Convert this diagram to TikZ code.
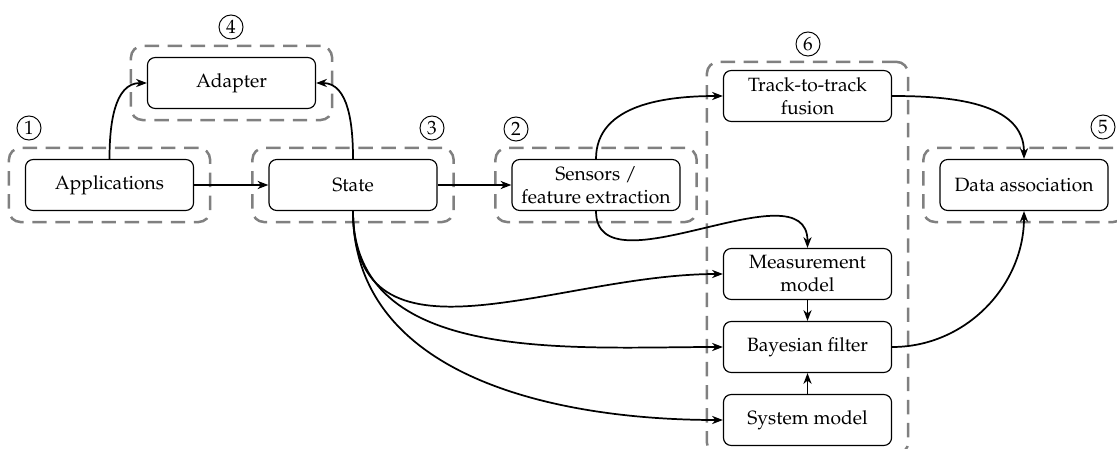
\documentclass[tikz,border=0pt]{standalone}
\usepackage[T1]{fontenc}
\usepackage{mathpazo}
\usetikzlibrary{arrows.meta,fit}
\begin{document}
\begin{tikzpicture}[x=0.52pt,y=-0.52pt,
  box/.style={draw, rounded corners=4pt, line width=0.6pt, minimum width=87.4pt, minimum height=26.5pt, align=center, inner sep=2pt},
  grp/.style={draw=gray, line width=1.3pt, dash pattern=on 7.5pt off 4.5pt, rounded corners=6pt, inner xsep=8.3pt, inner ysep=5.7pt},
  num/.style={draw, circle, line width=0.5pt, inner sep=0pt, minimum size=12.5pt},
  conn/.style={line width=0.9pt, -{Stealth[length=5.6pt,width=4.2pt,inset=1.7pt]}}]
\useasboundingbox (0,0) rectangle (1117,448);

% boxes
\node[box] (app) at (109.5,185) {Applications};
\node[box] (adapter) at (231.5,83) {Adapter};
\node[box] (state) at (353,185) {State};
\node[box] (sensors) at (596,185) {Sensors /\\feature extraction};
\node[box] (track) at (807.5,96) {Track-to-track\\fusion};
\node[box] (meas) at (807.5,274) {Measurement\\model};
\node[box] (bayes) at (807.5,347) {Bayesian filter};
\node[box] (sys) at (807.5,420) {System model};
\node[box] (da) at (1024,185) {Data association};

% groups
\node[grp, fit=(app)] (g1) {};
\node[grp, fit=(sensors)] (g2) {};
\node[grp, fit=(state)] (g3) {};
\node[grp, fit=(adapter)] (g4) {};
\node[grp, fit=(da)] (g5) {};
\node[grp, inner ysep=4.2pt, fit=(track)(sys)] (g6) {};

% numbers
\node[num] (n1) at (29,128) {1};
\node[num] (n2) at (516,129) {2};
\node[num] (n3) at (432,128) {3};
\node[num] (n4) at (231,27) {4};
\node[num] (n5) at (1103,127) {5};
\node[num] (n6) at (808,44) {6};

% connectors
\draw[conn] (app) -- (state);
\draw[conn] (app.north) to[out=90,in=180] (adapter.west);
\draw[conn] (state.north) to[out=90,in=0] (adapter.east);
\draw[conn] (state) -- (sensors);
\draw[conn] (sensors.north) to[out=90,in=180] (track.west);
\draw[conn] (track.east) to[out=0,in=90] (da.north);
\draw[conn] (sensors.south) to[out=-90,in=90] (meas.north);
\draw[conn] (state.south) to[out=-90,in=180,looseness=1.15] (meas.west);
\draw[conn] (state.south) to[out=-90,in=180] (bayes.west);
\draw[conn] (state.south) to[out=-90,in=180] (sys.west);
\draw[conn] (meas) -- (bayes);
\draw[conn] (sys) -- (bayes);
\draw[conn] (bayes.east) to[out=0,in=-90] (da.south);
\end{tikzpicture}
\end{document}
